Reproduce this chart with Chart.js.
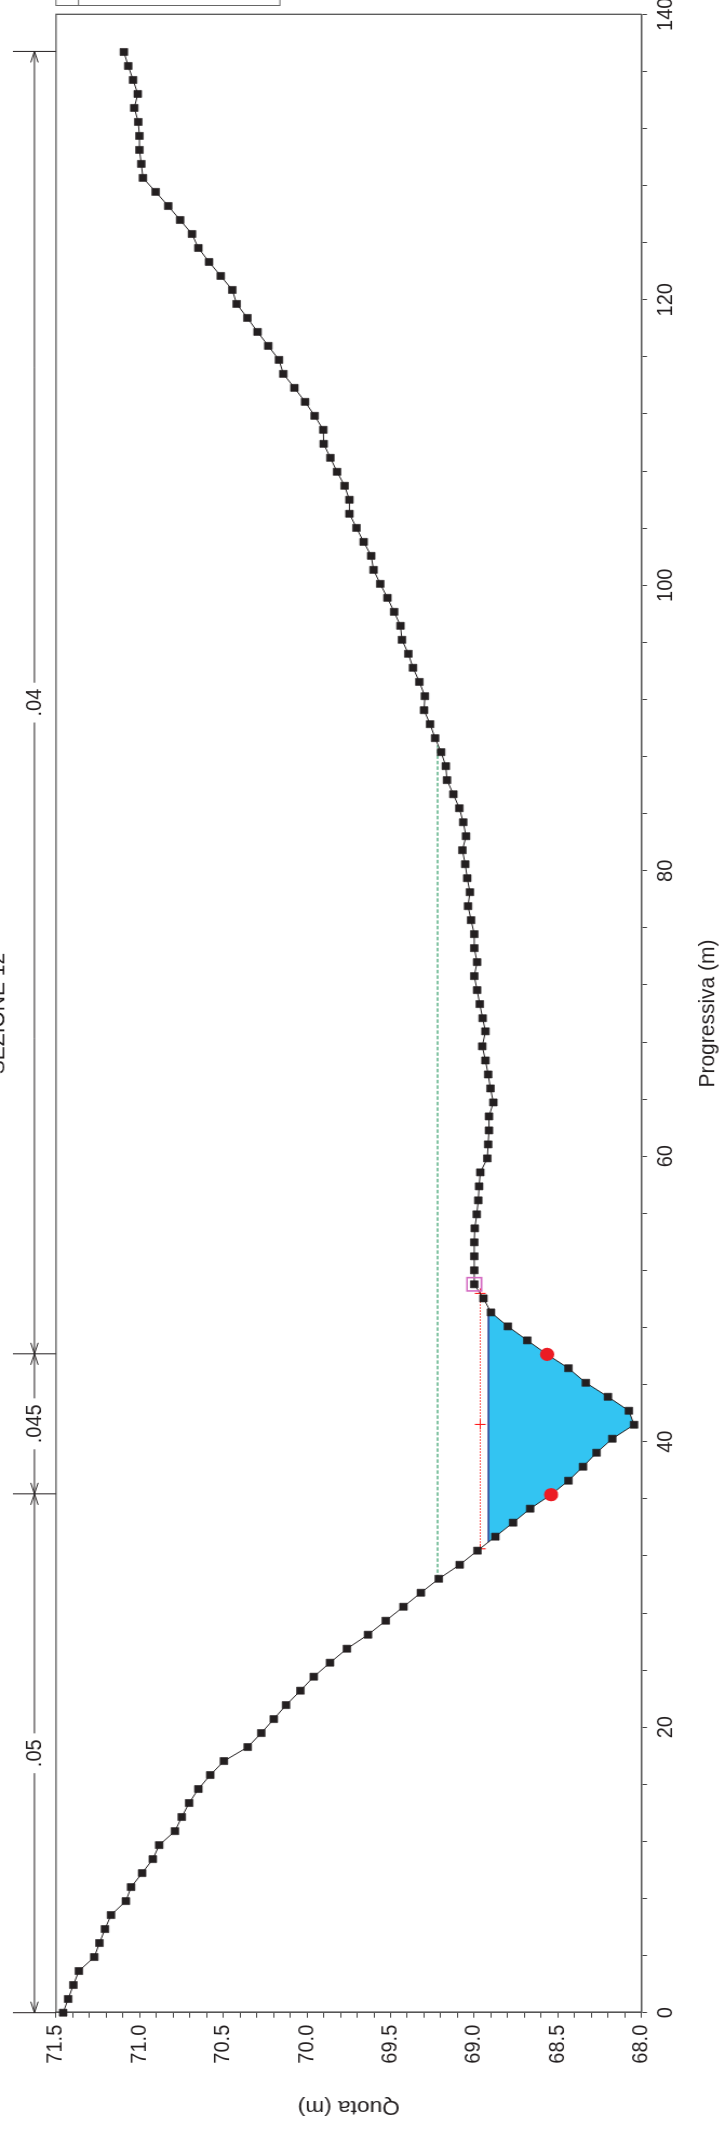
<!DOCTYPE html>
<html>
<head>
<meta charset="utf-8">
<script src="https://cdn.jsdelivr.net/npm/chart.js@4.4.1/dist/chart.umd.min.js"></script>
<style>
  html, body { margin:0; padding:0; background:#ffffff; width:725px; height:2132px; overflow:hidden; }
  #wrap { position:absolute; left:0; top:0; width:2132px; height:671px;
          transform-origin:0 0; transform:translate(0px, 2132px) rotate(-90deg) scale(1, 1.0805); }
  canvas { display:block; }
</style>
</head>
<body>
<div id="wrap"><canvas id="c" width="2132" height="671"></canvas></div>
<script>
// ---------------- DATA ----------------
const progressiva = [
  0.00, 0.96, 1.94, 2.92, 3.90, 4.88, 5.86, 6.84, 7.82, 8.80, 9.78, 10.76, 11.74, 12.72, 13.71, 14.69,
  15.67, 16.65, 17.63, 18.61, 19.59, 20.57, 21.55,
  22.56, 23.54, 24.52, 25.50, 26.48, 27.46, 28.44, 29.42, 30.40, 31.38, 32.37, 33.35, 34.33, 35.31,
  36.29, 37.27, 38.25, 39.23, 40.21, 41.19, 42.17, 43.15, 44.13, 45.15,
  46.12, 47.10, 48.08, 49.06, 50.04, 51.03, 52.01, 52.99, 53.97, 54.95, 55.93, 56.91, 57.89, 58.87,
  59.85, 60.83, 61.81, 62.79, 63.77, 64.75, 65.73, 66.71, 67.70, 68.75,
  69.67, 70.66, 71.64, 72.62, 73.60, 74.58, 75.56, 76.54, 77.52, 78.50, 79.48, 80.46, 81.44, 82.42,
  83.40, 84.38, 85.36, 86.35, 87.33, 88.31, 89.29, 90.27, 91.25, 92.23, 93.23,
  94.22, 95.20, 96.18, 97.16, 98.14, 99.12, 100.10, 101.08, 102.06, 103.04, 104.02, 105.01, 105.99,
  106.97, 107.95, 108.93, 109.91, 110.89, 111.87, 112.85, 113.83, 114.81, 115.79, 116.77,
  117.75, 118.73, 119.71, 120.69, 121.67, 122.65, 123.63, 124.61, 125.59, 126.57, 127.56, 128.54,
  129.52, 130.50, 131.48, 132.46, 133.44, 134.42, 135.40, 136.38, 137.36
];
const quota = [
  71.457, 71.427, 71.396, 71.363, 71.271, 71.240, 71.207, 71.171, 71.082, 71.051, 70.985, 70.921, 70.883, 70.789, 70.748, 70.704,
  70.649, 70.578, 70.496, 70.354, 70.273, 70.198, 70.125,
  70.039, 69.959, 69.862, 69.761, 69.635, 69.529, 69.423, 69.319, 69.212, 69.087, 68.981, 68.874, 68.768, 68.666,
  68.541, 68.437, 68.350, 68.269, 68.175, 68.045, 68.076, 68.201, 68.333, 68.437,
  68.565, 68.683, 68.799, 68.900, 68.945, 69.000, 69.000, 69.000, 69.000, 68.997, 68.985, 68.976, 68.971, 68.964,
  68.922, 68.917, 68.912, 68.912, 68.886, 68.903, 68.917, 68.933, 68.952, 68.933,
  68.950, 68.967, 68.983, 69.000, 68.983, 69.000, 69.000, 69.019, 69.037, 69.026, 69.042, 69.054, 69.071, 69.049,
  69.066, 69.089, 69.125, 69.163, 69.170, 69.198, 69.234, 69.264, 69.300, 69.295, 69.328,
  69.366, 69.394, 69.432, 69.441, 69.479, 69.519, 69.562, 69.602, 69.616, 69.661, 69.704, 69.746, 69.746,
  69.775, 69.820, 69.860, 69.900, 69.902, 69.954, 70.011, 70.075, 70.141, 70.167, 70.231,
  70.295, 70.356, 70.420, 70.446, 70.515, 70.585, 70.649, 70.687, 70.758, 70.829, 70.904, 70.980,
  70.990, 71.001, 71.001, 71.008, 71.032, 71.011, 71.039, 71.068, 71.094
];

const xTickLabels = [0, 20, 40, 60, 80, 100, 120, 140];
const yTickLabels = [68.0, 68.5, 69.0, 69.5, 70.0, 70.5, 71.0, 71.5];

const roughBreaks = [0, 36.35, 46.16, 137.4];
const roughLabels = ['.05', '.045', '.04'];

const waterLevel = 68.915;
const wetExtent = [32.97, 49.35];

const redLevel = 68.964;
const redMarks = [32.50, 41.21, 50.39];

const greenLevel = 69.219;
const greenExtent = [30.43, 88.80];

const bankProg = [36.29, 46.12];
const bankQuota = [68.541, 68.565];

const pinkProg = [51.03];
const pinkQuota = [69.000];

const titleText = 'SEZIONE 12';
const xTitle = 'Progressiva (m)';
const yTitle = 'Quota (m)';

// ---------------- BUILD ----------------
const FONT = "'Liberation Sans', Arial, Helvetica, sans-serif";
const INK = '#231f20';
const VS = 1.0805; // vertical stretch applied by CSS

const profile = progressiva.map((p, i) => ({ x: p, y: quota[i] }));
const wetPoly = [{ x: wetExtent[0], y: waterLevel }]
  .concat(profile.filter(pt => pt.x > wetExtent[0] && pt.x < wetExtent[1]))
  .concat([{ x: wetExtent[1], y: waterLevel }]);
const banks = bankProg.map((p, i) => ({ x: p, y: bankQuota[i] }));
const pink = pinkProg.map((p, i) => ({ x: p, y: pinkQuota[i] }));
const redPts = redMarks.map(p => ({ x: p, y: redLevel }));
const greenPts = greenExtent.map(p => ({ x: p, y: greenLevel }));
const waterLine = wetExtent.map(p => ({ x: p, y: waterLevel }));

const near = (a, b) => Math.abs(a - b) < 1e-6;

const extras = {
  id: 'extras',
  afterDraw(chart) {
    const { ctx, chartArea: a, scales } = chart;
    const xs = scales.x;
    ctx.save();
    // frame (top & right of plot area)
    ctx.strokeStyle = '#555'; ctx.lineWidth = 1.3;
    ctx.beginPath();
    ctx.moveTo(a.left, a.top); ctx.lineTo(a.right, a.top); ctx.lineTo(a.right, a.bottom);
    ctx.stroke();

    // title (partially cut at top edge)
    ctx.fillStyle = INK;
    ctx.font = '21px ' + FONT;
    ctx.textAlign = 'center'; ctx.textBaseline = 'alphabetic';
    ctx.fillText(titleText, (a.left + a.right) / 2, 3.8);

    // legend box (mostly out of frame)
    ctx.strokeStyle = '#666'; ctx.lineWidth = 1;
    ctx.strokeRect(2126.5, 51.8, 40, 259.1 - 51.8);
    ctx.beginPath(); ctx.moveTo(2126.5, 72.7); ctx.lineTo(2140, 72.7); ctx.stroke();

    // roughness dimension line
    const yDim = 31.9, yExt0 = 12.0;
    ctx.strokeStyle = INK; ctx.lineWidth = 1;
    ctx.font = '20px ' + FONT;
    ctx.textBaseline = 'middle'; ctx.textAlign = 'center';
    const px = roughBreaks.map(b => xs.getPixelForValue(b));
    // extension lines
    px.forEach(p => {
      ctx.beginPath(); ctx.moveTo(p, yExt0); ctx.lineTo(p, a.top); ctx.stroke();
    });
    // segments with labels and arrows
    const AL = 11, AW = 3.4;
    for (let i = 0; i < roughLabels.length; i++) {
      const p0 = px[i], p1 = px[i + 1], mid = (p0 + p1) / 2;
      const w = ctx.measureText(roughLabels[i]).width / 2 + 6;
      ctx.beginPath();
      ctx.moveTo(p0, yDim); ctx.lineTo(mid - w, yDim);
      ctx.moveTo(mid + w, yDim); ctx.lineTo(p1, yDim);
      // arrow at p0 (pointing to p0)
      ctx.moveTo(p0 + AL, yDim - AW); ctx.lineTo(p0, yDim); ctx.lineTo(p0 + AL, yDim + AW);
      // arrow at p1 (pointing to p1)
      ctx.moveTo(p1 - AL, yDim - AW); ctx.lineTo(p1, yDim); ctx.lineTo(p1 - AL, yDim + AW);
      ctx.stroke();
      ctx.fillText(roughLabels[i], mid, yDim + 1);
    }
    ctx.restore();
  }
};

const chart = new Chart(document.getElementById('c'), {
  type: 'line',
  data: {
    datasets: [
      { label: 'sponde', data: banks, showLine: false, pointStyle: 'circle', pointRadius: 6.6,
        pointBackgroundColor: '#ec1c24', pointBorderColor: '#ec1c24', pointBorderWidth: 0 },
      { label: 'punto', data: pink, showLine: false, pointStyle: 'rect', pointRadius: 9.4,
        pointBackgroundColor: 'rgba(0,0,0,0)', pointBorderColor: '#d46cc2', pointBorderWidth: 1.6 },
      { label: 'profilo', data: profile, showLine: true, borderColor: INK, borderWidth: 1, tension: 0,
        pointStyle: 'rect', pointRadius: 5.0, pointBackgroundColor: INK, pointBorderColor: INK,
        pointBorderWidth: 0.6, clip: false },
      { label: 'croci', data: redPts, showLine: false, pointStyle: 'cross', pointRadius: 5,
        pointBorderColor: '#ff1a1a', pointBorderWidth: 1.1 },
      { label: 'livello rosso', data: redPts, showLine: true, borderColor: '#ff2a2a', borderWidth: 1,
        borderDash: [1.5, 1.5], pointRadius: 0 },
      { label: 'livello verde', data: greenPts, showLine: true, borderColor: '#0a8a4a', borderWidth: 1.1,
        borderDash: [3.5, 2], pointRadius: 0 },
      { label: 'pelo libero', data: waterLine, showLine: true, borderColor: '#2f4c9c', borderWidth: 1.8,
        pointRadius: 0 },
      { label: 'sezione bagnata', data: wetPoly, showLine: true, borderWidth: 0, borderColor: 'rgba(0,0,0,0)',
        backgroundColor: '#33c4f2', fill: { value: waterLevel }, pointRadius: 0, tension: 0 }
    ]
  },
  options: {
    responsive: false,
    animation: false,
    events: [],
    layout: { padding: { top: 51.8, right: 14.3, left: 0, bottom: 0 } },
    plugins: { legend: { display: false }, title: { display: false }, tooltip: { enabled: false } },
    scales: {
      x: {
        type: 'linear', min: 0, max: 140,
        ticks: {
          stepSize: 4, autoSkip: false, maxRotation: 0, minRotation: 0, padding: 6,
          color: INK, font: { family: FONT, size: 20 },
          callback: v => xTickLabels.some(t => near(t, v)) ? String(Math.round(v)) : ''
        },
        grid: { display: true, drawOnChartArea: false, drawTicks: true, tickLength: 5, color: '#444', lineWidth: 1 },
        border: { display: true, color: '#555', width: 1.6 },
        title: { display: true, text: xTitle, color: INK, font: { family: FONT, size: 21 }, padding: { top: 0, bottom: 3 } },
        afterFit: s => { s.height = 671 - 593.8; s.paddingLeft = 0; s.paddingRight = 0; }
      },
      y: {
        type: 'linear', min: 68, max: 71.5,
        ticks: {
          stepSize: 0.1, autoSkip: false, padding: 7,
          color: INK, font: { family: FONT, size: 20 },
          callback: v => yTickLabels.some(t => near(t, v)) ? v.toFixed(1) : ''
        },
        grid: { display: true, drawOnChartArea: false, drawTicks: true, tickLength: 5, color: '#444', lineWidth: 1 },
        border: { display: true, color: '#555', width: 1.6 },
        title: { display: true, text: yTitle, color: INK, font: { family: FONT, size: 21 }, padding: { top: 13, bottom: 0 } },
        afterFit: s => { s.width = 119.3; }
      }
    }
  },
  plugins: [extras]
});
</script>
</body>
</html>
